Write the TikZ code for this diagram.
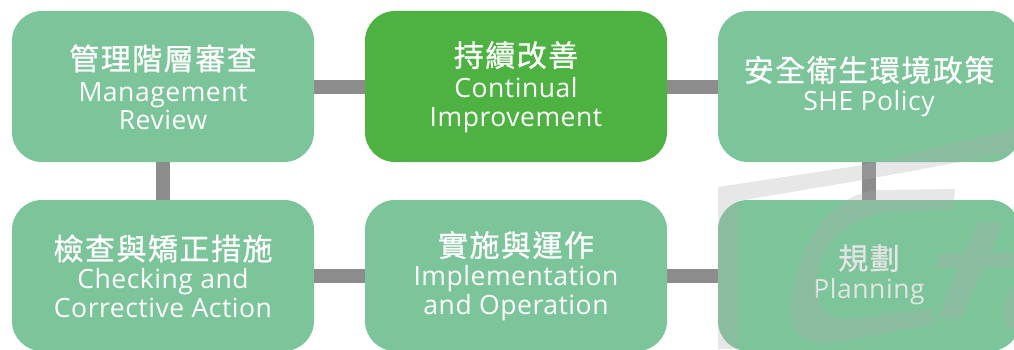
\documentclass[tikz,border=0pt]{standalone}
\usepackage{fontspec}
\newfontfamily\zhfont[LetterSpace=5,FakeBold=0.8]{Noto Sans CJK TC}
\newfontfamily\enfont[LetterSpace=2]{Open Sans}
\usetikzlibrary{backgrounds}
\definecolor{lgreen}{HTML}{7CC49A}
\definecolor{dgreen}{HTML}{4DB242}
\definecolor{conn}{HTML}{8C8C8C}
\definecolor{wm}{HTML}{AEAEAE}
\definecolor{dimtext}{HTML}{E4E4E4}
\begin{document}
\begin{tikzpicture}[x=1pt,y=1pt,
  box/.style={rounded corners=30pt, minimum width=302pt, minimum height=151pt, inner sep=0pt, fill=lgreen},
  hotbox/.style={box, fill=dgreen},
  zh/.style={anchor=base, text=white, inner sep=0pt, font=\zhfont\fontsize{30}{30}\selectfont},
  en/.style={anchor=base, text=white, inner sep=0pt, font=\enfont\fontsize{26.5}{26.5}\selectfont},
  link/.style={draw=conn, line width=14pt},
  wmark/.style={fill=wm, fill opacity=0.29, draw=none}]
\useasboundingbox (0,0) rectangle (1014,349);
\clip (0,0) rectangle (1014,349);

% boxes
\node[box]    (b1) at (163,262.5) {};
\node[hotbox] (b2) at (516,262.5) {};
\node[box]    (b3) at (869,262.5) {};
\node[box]    (b4) at (163,73.5) {};
\node[box]    (b5) at (516,73.5) {};
\node[box]    (b6) at (869,73.5) {};

% background and connectors
\begin{scope}[on background layer]
\fill[white] (0,0) rectangle (1014,349);
\draw[link] (b1.east) -- (b2.west);
\draw[link] (b2.east) -- (b3.west);
\draw[link] (b1.south) -- (b4.north);
\draw[link] (b3.south) -- (b6.north);
\draw[link] (b4.east) -- (b5.west);
\draw[link] (b5.east) -- (b6.west);
\end{scope}

% texts
\node[zh] (t1a) at ([yshift=16.5pt]b1.center) {管理階層審查};
\node[en] (t1b) at ([yshift=-14.5pt]b1.center) {Management};
\node[en] (t1c) at ([yshift=-42.5pt]b1.center) {Review};

\node[zh] (t2a) at ([yshift=20pt]b2.center) {持續改善};
\node[en] (t2b) at ([yshift=-10.5pt]b2.center) {Continual};
\node[en] (t2c) at ([yshift=-39.5pt]b2.center) {Improvement};

\node[zh] (t3a) at ([yshift=5pt]b3.center) {安全衛生環境政策};
\node[en] (t3b) at ([yshift=-23.5pt]b3.center) {SHE Policy};

\node[zh] (t4a) at ([yshift=15.5pt]b4.center) {檢查與矯正措施};
\node[en] (t4b) at ([yshift=-12.5pt]b4.center) {Checking and};
\node[en] (t4c) at ([yshift=-41.5pt]b4.center) {Corrective Action};

\node[zh] (t5a) at ([yshift=19pt]b5.center) {實施與運作};
\node[en] (t5b) at ([yshift=-9.5pt]b5.center) {Implementation};
\node[en] (t5c) at ([yshift=-38.5pt]b5.center) {and Operation};

\node[zh, text=dimtext] (t6a) at ([yshift=6pt]b6.center) {規劃};
\node[en, text=dimtext] (t6b) at ([yshift=-22.5pt]b6.center) {Planning};

% faint watermark
\fill[wmark] (718,0) -- (718,162) -- (863,184) -- (1014,221) -- (1014,197)
  -- (863,169) -- (738,148) -- (738,0) -- cycle;
\fill[wmark] (955,160) -- (880,159) .. controls (830,157) and (795,99) .. (791,44)
  .. controls (788,4) and (815,4) .. (850,9) -- (935,25) -- (933,40) -- (850,31)
  .. controls (825,27) and (812,49) .. (818,79) .. controls (825,114) and (860,137) .. (900,138)
  -- (953,139) -- cycle;
\fill[wmark] (978,127) -- (1003,127) -- (962,31) -- (937,31) -- cycle
  (940,96) -- (1014,96) -- (1014,81) -- (934,81) -- cycle;
\fill[wmark] (1014,64) .. controls (1003,54) and (1000,34) .. (1008,19) -- (1014,19) -- cycle;
\end{tikzpicture}
\end{document}
